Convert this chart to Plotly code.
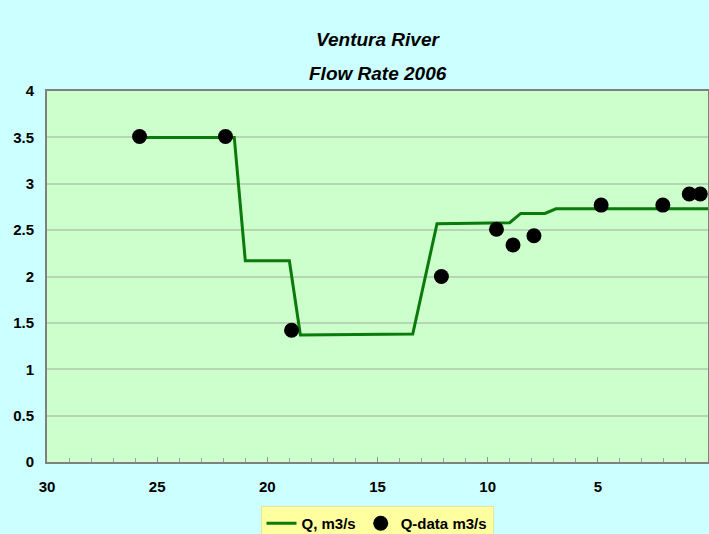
import plotly.graph_objects as go

# Modelled flow (step-like line)
q_x = [25.8, 21.5, 21.0, 19.0, 18.5, 13.4, 12.3, 9.0, 8.5, 7.4, 6.9, 0.0]
q_y = [3.50, 3.50, 2.17, 2.17, 1.37, 1.38, 2.57, 2.58, 2.68, 2.68, 2.73, 2.73]

# Measured data points
d_x = [25.8, 21.9, 18.9, 12.1, 9.6, 8.85, 7.9, 4.85, 2.05, 0.85, 0.35]
d_y = [3.51, 3.51, 1.42, 2.00, 2.51, 2.34, 2.44, 2.77, 2.77, 2.89, 2.89]

x_ticks = [30, 25, 20, 15, 10, 5, 0]
y_ticks = [0, 0.5, 1, 1.5, 2, 2.5, 3, 3.5, 4]

FONT = "Liberation Sans, Arial, sans-serif"

fig = go.Figure()
fig.add_trace(go.Scatter(x=q_x, y=q_y, mode="lines", name="Q, m3/s",
                         line=dict(color="#0a7a0a", width=3), cliponaxis=False))
fig.add_trace(go.Scatter(x=d_x, y=d_y, mode="markers", name="Q-data m3/s",
                         marker=dict(color="black", size=15), cliponaxis=False))

plot_h = 534 - 91 - 72
plot_w = 709 - 47 - 1

fig.update_layout(
    width=709, height=534,
    paper_bgcolor="#ccffff",
    plot_bgcolor="#ccffcc",
    margin=dict(l=47, r=1, t=91, b=72, autoexpand=False),
    font=dict(family=FONT, size=14, color="black"),
    showlegend=True,
    legend=dict(orientation="h", x=(377 - 47) / plot_w, xanchor="center",
                y=-(506 - 462) / plot_h, yanchor="top",
                bgcolor="#ffffa0", bordercolor="#e6e69a", borderwidth=1,
                font=dict(family=FONT, size=15, color="black", weight="bold"),
                itemwidth=30, tracegroupgap=0),
    annotations=[
        dict(text="<b><i>Ventura River</i></b>", x=(378 - 47) / plot_w,
             y=1 + (91 - 40) / plot_h, xref="paper", yref="paper",
             xanchor="center", yanchor="middle",
             showarrow=False, font=dict(family=FONT, size=19)),
        dict(text="<b><i>Flow Rate 2006</i></b>", x=(378 - 47) / plot_w,
             y=1 + (91 - 73) / plot_h, xref="paper", yref="paper",
             xanchor="center", yanchor="middle",
             showarrow=False, font=dict(family=FONT, size=19)),
    ],
)

fig.update_xaxes(
    range=[30, 0], tickvals=x_ticks, ticktext=[str(v) for v in x_ticks],
    showgrid=False, zeroline=False,
    showline=True, linecolor="#808080", linewidth=2, mirror=True,
    ticks="inside", ticklen=5, tickcolor="#909090",
    minor=dict(dtick=1, ticks="inside", ticklen=4, tickcolor="#a0a0a0"),
    tickfont=dict(family=FONT, size=15, color="black", weight="bold"),
    ticklabelstandoff=10,
)
fig.update_yaxes(
    range=[0, 4], tickvals=y_ticks, ticktext=[f"{v:g}" for v in y_ticks],
    showgrid=True, gridcolor="#b5d6b5", gridwidth=1.5, zeroline=False,
    showline=True, linecolor="#808080", linewidth=2, mirror=True,
    ticks="", tickfont=dict(family=FONT, size=15, color="black", weight="bold"),
    ticklabelstandoff=8,
)

fig.write_html("out.html", config={"displayModeBar": False},
               post_script="document.body.style.margin='0';document.body.style.padding='0';")
